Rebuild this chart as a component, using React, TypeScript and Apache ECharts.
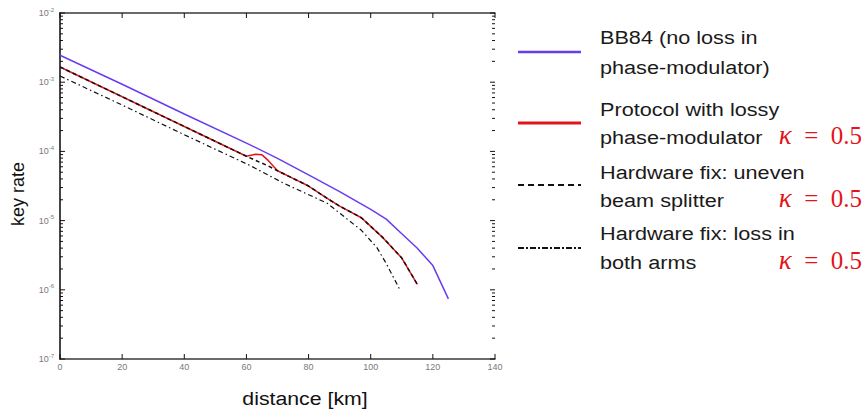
import React, { useEffect, useRef } from "react";
import * as echarts from "echarts";

// ---- data ----
const distBB84 = [0, 20, 40, 60, 70, 80, 90, 100, 105, 110, 115, 120, 125];
const rateBB84 = [2.45e-3, 9.33e-4, 3.47e-4, 1.32e-4, 7.94e-5, 4.57e-5, 2.63e-5, 1.45e-5, 1.05e-5, 6.46e-6, 3.98e-6, 2.24e-6, 7.41e-7];

const distLossy = [0, 20, 40, 60, 63, 65, 67, 70, 75, 80, 86, 90, 97, 104, 110, 115];
const rateLossy = [1.66e-3, 6.17e-4, 2.29e-4, 8.51e-5, 9.12e-5, 8.91e-5, 7.41e-5, 5.25e-5, 4.07e-5, 3.16e-5, 2.09e-5, 1.62e-5, 1.1e-5, 5.62e-6, 2.88e-6, 1.2e-6];

const distUneven = [0, 20, 40, 60, 63, 65, 67, 70, 75, 80, 86, 90, 97, 104, 110, 115];
const rateUneven = [1.66e-3, 6.17e-4, 2.29e-4, 8.51e-5, 7.41e-5, 6.76e-5, 6.17e-5, 5.25e-5, 4.07e-5, 3.16e-5, 2.09e-5, 1.62e-5, 1.1e-5, 5.62e-6, 2.88e-6, 1.2e-6];

const distBoth = [0, 20, 40, 61, 72, 86, 97, 102, 105, 109.5];
const rateBoth = [1.23e-3, 4.68e-4, 1.74e-4, 6.31e-5, 3.47e-5, 1.78e-5, 7.24e-6, 4.07e-6, 2.4e-6, 9.77e-7];

const seriesNames = [
  "BB84 (no loss in phase-modulator)",
  "Protocol with lossy phase-modulator",
  "Hardware fix: uneven beam splitter",
  "Hardware fix: loss in both arms",
];
const legendLines = [
  ["BB84 (no loss in", "phase-modulator)"],
  ["Protocol with lossy", "phase-modulator"],
  ["Hardware fix: uneven", "beam splitter"],
  ["Hardware fix: loss in", "both arms"],
];
const legendKappa = ["", "0.5", "0.5", "0.5"];

const xTicks = [0, 20, 40, 60, 80, 100, 120, 140];
const yMajor = [1e-7, 1e-6, 1e-5, 1e-4, 1e-3, 1e-2];
const yMinor: number[] = [];
for (let e = -7; e <= -3; e++) for (let m = 2; m <= 9; m++) yMinor.push(m * Math.pow(10, e));

const X_MIN = 0, X_MAX = 140, Y_MIN = 1e-7, Y_MAX = 1e-2;

const zip = (xs: number[], ys: number[]) => xs.map((x, i) => [x, ys[i]]);

const BLUE = "#6a3cf0";
const RED = "#e2151c";

export default function App() {
  const ref = useRef<HTMLDivElement>(null);
  useEffect(() => {
    const chart = echarts.init(ref.current!, null, { renderer: "svg" });
    const axisCol = "#3a3a3a";
    const labelCol = "#7a7a7a";
    const frame = { show: true, lineStyle: { color: axisCol, width: 1.5 } };

    const xBase = { type: "value" as const, min: X_MIN, max: X_MAX, interval: 20, splitLine: { show: false }, axisTick: { show: false } };
    const yBase = { type: "log" as const, logBase: 10, min: Y_MIN, max: Y_MAX, splitLine: { show: false }, axisTick: { show: false } };

    // tick marks: [x, y, side, length]; side 0 bottom, 1 top, 2 left, 3 right
    const tickData: number[][] = [];
    xTicks.forEach((x) => {
      tickData.push([x, Y_MIN, 0, 5]);
      tickData.push([x, Y_MAX, 1, 5]);
    });
    yMajor.forEach((y) => {
      tickData.push([X_MIN, y, 2, 5]);
      tickData.push([X_MAX, y, 3, 5]);
    });
    yMinor.forEach((y) => {
      tickData.push([X_MIN, y, 2, 3]);
      tickData.push([X_MAX, y, 3, 3]);
    });
    const dirs = [[0, -1], [0, 1], [1, 0], [-1, 0]];
    const renderTick = (params: any, api: any) => {
      const p = api.coord([api.value(0), api.value(1)]);
      const d = dirs[api.value(2)];
      const len = api.value(3);
      return {
        type: "line",
        z2: 100,
        shape: { x1: p[0], y1: p[1], x2: p[0] + d[0] * len, y2: p[1] + d[1] * len },
        style: { stroke: "#111", lineWidth: 1 },
      };
    };

    const legendGraphics: any[] = [];
    const sampleY = [52, 123, 185, 248];
    const textY = [[37, 67], [109, 137], [172, 200], [233, 262]];
    const styles = [
      { stroke: BLUE, lineWidth: 2.5 },
      { stroke: RED, lineWidth: 3 },
      { stroke: "#111", lineWidth: 2, lineDash: [6, 4] },
      { stroke: "#111", lineWidth: 2, lineDash: [6, 2, 2, 2] },
    ];
    legendLines.forEach((lines, i) => {
      legendGraphics.push({
        type: "line",
        shape: { x1: 518, y1: sampleY[i], x2: 581, y2: sampleY[i] },
        style: styles[i],
      });
      lines.forEach((t, j) => {
        legendGraphics.push({
          type: "text",
          x: 600,
          y: textY[i][j],
          scaleX: 1.14,
          style: {
            text: t,
            fontSize: 19,
            fontFamily: "Liberation Sans",
            fill: "#1a1a1a",
            verticalAlign: "middle",
            align: "left",
          },
        });
      });
      if (legendKappa[i]) {
        legendGraphics.push({
          type: "text",
          x: 862,
          y: textY[i][1] - 2,
          style: {
            text: `{k|κ}{e|  =  }{v|${legendKappa[i]}}`,
            fontSize: 25,
            fontFamily: "Liberation Serif",
            fill: RED,
            verticalAlign: "middle",
            align: "right",
            rich: {
              k: { fontSize: 27, fontStyle: "italic", fontFamily: "Liberation Serif", fill: RED, color: RED },
              e: { fontSize: 25, fontFamily: "Liberation Serif", fill: RED, color: RED },
              v: { fontSize: 25, fontFamily: "Liberation Serif", fill: RED, color: RED },
            },
          },
        });
      }
    });

    chart.setOption({
      animation: false,
      backgroundColor: "#fff",
      grid: { left: 60, right: 372, top: 13, bottom: 54 },
      xAxis: [
        {
          ...xBase,
          position: "bottom",
          axisLine: frame,
          axisLabel: { color: labelCol, fontSize: 9, fontFamily: "Liberation Sans", margin: 3 },
        },
        { ...xBase, position: "top", axisLine: frame, axisLabel: { show: false } },
      ],
      yAxis: [
        {
          ...yBase,
          position: "left",
          axisLine: frame,
          axisLabel: {
            show: true,
            color: labelCol,
            margin: 6,
            customValues: yMajor,
            formatter: (v: number) => `{b|10}{s|${Math.round(Math.log10(v))}}`,
            rich: {
              b: { fontSize: 9, color: labelCol, fontFamily: "Liberation Sans" },
              s: { fontSize: 6, color: labelCol, fontFamily: "Liberation Sans", padding: [0, 0, 7, 0] },
            },
          },
        },
        { ...yBase, position: "right", axisLine: frame, axisLabel: { show: false } },
      ],
      series: [
        {
          name: seriesNames[0],
          type: "line",
          data: zip(distBB84, rateBB84),
          showSymbol: false,
          lineStyle: { color: BLUE, width: 1.5 },
        },
        {
          name: seriesNames[1],
          type: "line",
          data: zip(distLossy, rateLossy),
          showSymbol: false,
          lineStyle: { color: RED, width: 1.5 },
        },
        {
          name: seriesNames[2],
          type: "line",
          data: zip(distUneven, rateUneven),
          showSymbol: false,
          lineStyle: { color: "#111", width: 1.5, type: [4, 3] },
        },
        {
          name: seriesNames[3],
          type: "line",
          data: zip(distBoth, rateBoth),
          showSymbol: false,
          lineStyle: { color: "#111", width: 1.2, type: [5, 3, 1.5, 3] },
        },
        {
          name: "ticks",
          type: "custom",
          xAxisIndex: 0,
          yAxisIndex: 0,
          clip: false,
          silent: true,
          z: 50,
          data: tickData,
          renderItem: renderTick,
        },
      ],
      graphic: [
        {
          type: "text",
          x: 18,
          y: 194,
          rotation: Math.PI / 2,
          style: {
            text: "key rate",
            fontSize: 18,
            fontFamily: "Liberation Sans",
            fill: "#111",
            align: "center",
            verticalAlign: "middle",
          },
        },
        {
          type: "text",
          x: 305,
          y: 398,
          scaleX: 1.12,
          style: {
            text: "distance [km]",
            fontSize: 19,
            fontFamily: "Liberation Sans",
            fill: "#111",
            align: "center",
            verticalAlign: "middle",
          },
        },
        ...legendGraphics,
      ],
    });
    return () => chart.dispose();
  }, []);
  return <div ref={ref} style={{ position: "fixed", left: 0, top: 0, width: 867, height: 413 }} />;
}
